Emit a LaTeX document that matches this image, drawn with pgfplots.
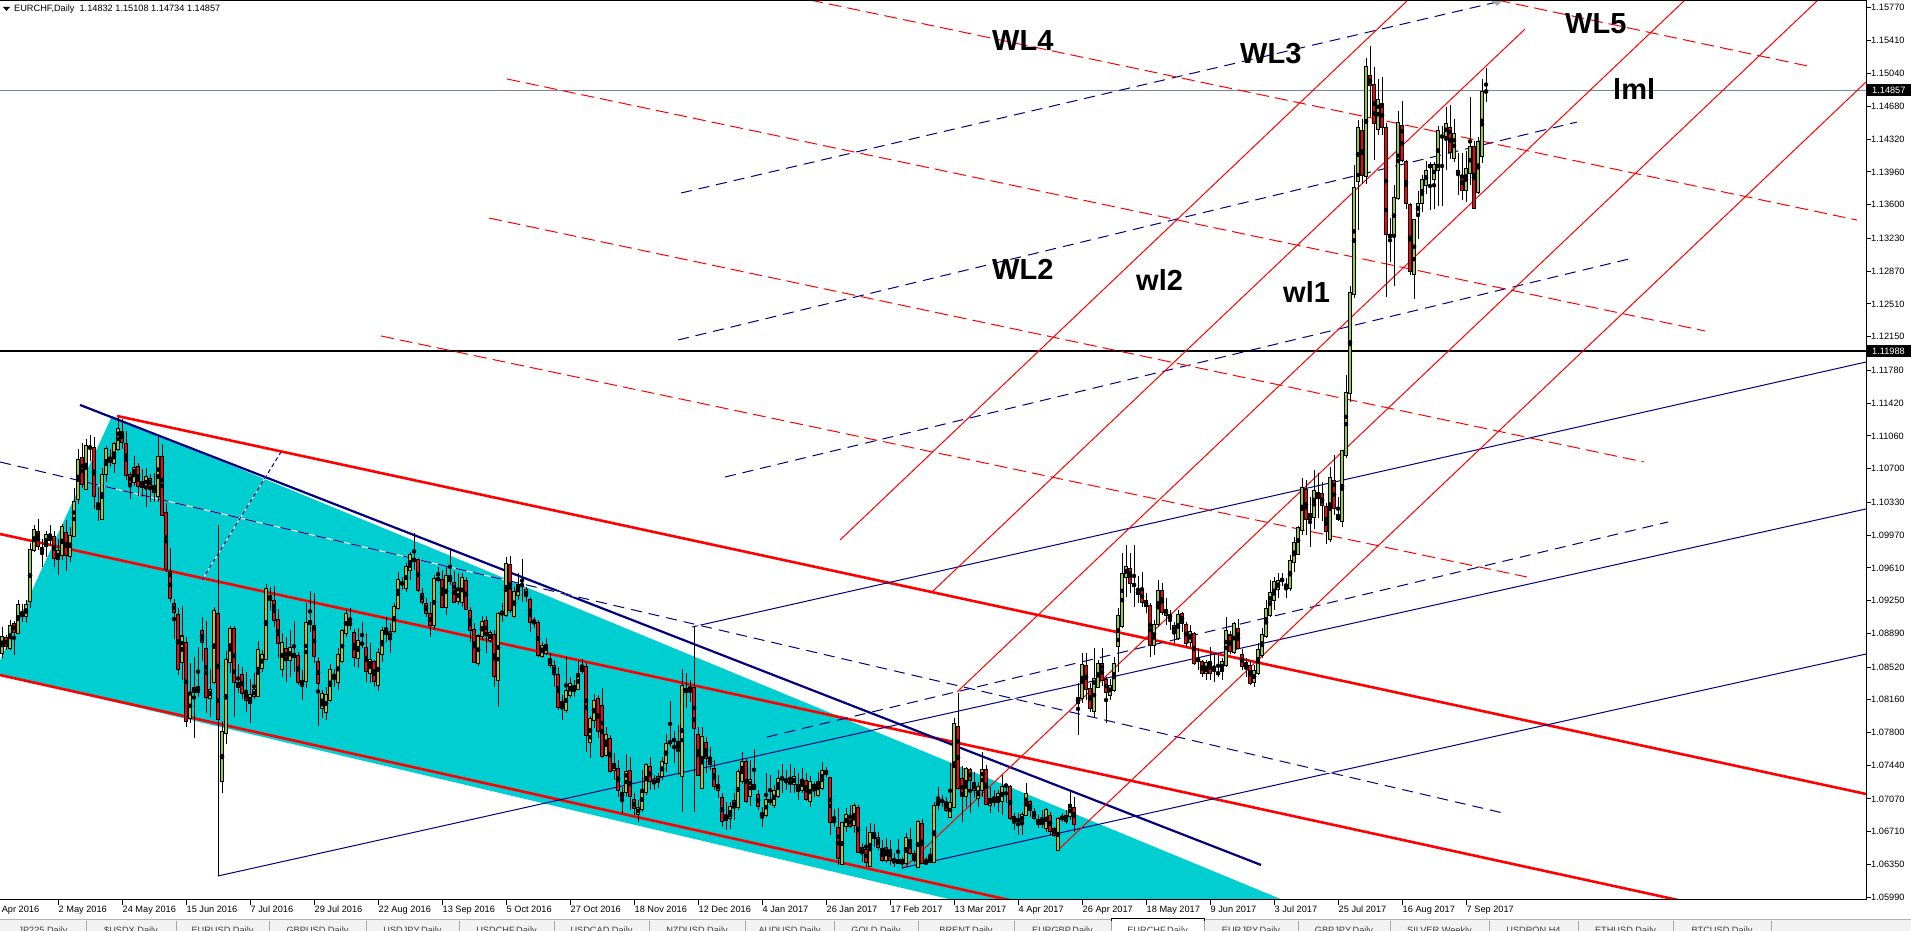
\documentclass[border=0pt]{standalone}
\usepackage{pgfplots}
\pgfplotsset{compat=1.18}
\usepackage{pgfplotstable}
\usepackage{fontspec}
\setmainfont{Liberation Sans}
\definecolor{mtnavy}{RGB}{0,0,128}
\definecolor{mtred}{RGB}{255,0,0}
\definecolor{mtcyan}{RGB}{0,206,209}
\definecolor{bull}{RGB}{154,205,50}
\definecolor{pricegray}{RGB}{119,136,153}
\newcommand{\axfont}{\fontsize{9.2bp}{11bp}\selectfont}
\newcommand{\wlfont}{\fontsize{29bp}{32bp}\selectfont\bfseries}

\pgfplotstableread{
k o h l c
-14 1.08670 1.08963 1.08615 1.08854
-13 1.08846 1.08872 1.08707 1.08744
-12 1.08725 1.09037 1.08707 1.08974
-11 1.09000 1.09029 1.08652 1.08901
-10 1.08890 1.09256 1.08880 1.09209
-9 1.09121 1.09212 1.09018 1.09073
-8 1.09073 1.09256 1.09000 1.09209
-7 1.09238 1.09879 1.09165 1.09813
-6 1.09802 1.10081 1.09788 1.10033
-5 1.10011 1.10143 1.09806 1.09843
-4 1.09788 1.09923 1.09623 1.09835
-3 1.09843 1.10018 1.09733 1.09978
-2 1.09952 1.10081 1.09854 1.09908
-1 1.09956 1.10018 1.09623 1.09714
0 1.09703 1.09923 1.09531 1.09799
1 1.09744 1.10092 1.09696 1.10070
2 1.10000 1.10136 1.09579 1.09744
3 1.09733 1.10062 1.09670 1.09971
4 1.09960 1.10484 1.09952 1.10337
5 1.10363 1.10912 1.10311 1.10802
6 1.10824 1.10978 1.10484 1.10527
7 1.10473 1.11022 1.10465 1.10956
8 1.10941 1.11070 1.10788 1.10930
9 1.10934 1.11044 1.10256 1.10396
10 1.10319 1.10495 1.10128 1.10253
11 1.10143 1.10703 1.10136 1.10637
12 1.10637 1.10949 1.10553 1.10923
13 1.10824 1.10912 1.10714 1.10769
14 1.10758 1.10996 1.10659 1.10971
15 1.10912 1.11271 1.10897 1.11143
16 1.11114 1.11245 1.10916 1.10989
17 1.10978 1.11114 1.10575 1.10630
18 1.10637 1.10667 1.10363 1.10538
19 1.10546 1.10839 1.10509 1.10714
20 1.10725 1.10766 1.10399 1.10502
21 1.10495 1.10692 1.10392 1.10557
22 1.10495 1.10714 1.10275 1.10612
23 1.10590 1.10637 1.10337 1.10509
24 1.10516 1.10648 1.10337 1.10436
25 1.10392 1.11044 1.10337 1.10839
26 1.10832 1.10967 1.10183 1.10190
27 1.10220 1.10319 1.09568 1.09590
28 1.09575 1.09835 1.09238 1.09275
29 1.09223 1.09264 1.08835 1.09121
30 1.09099 1.09172 1.08432 1.08491
31 1.08568 1.09191 1.08377 1.08861
32 1.08791 1.08854 1.07865 1.07923
33 1.07956 1.08561 1.07901 1.08231
34 1.08238 1.08626 1.07744 1.08297
35 1.08304 1.08744 1.08194 1.08242
36 1.08927 1.09066 1.08590 1.08791
37 1.08725 1.09026 1.08011 1.08187
38 1.08176 1.08495 1.07974 1.08275
39 1.08348 1.09183 1.08333 1.09147
40 1.09110 1.10081 1.06224 1.07945
41 1.07260 1.07930 1.07132 1.07817
42 1.07791 1.08700 1.07674 1.08604
43 1.08568 1.08971 1.08458 1.08945
44 1.08938 1.08971 1.07967 1.08348
45 1.08297 1.08557 1.08231 1.08348
46 1.08440 1.08524 1.08165 1.08231
47 1.08249 1.08469 1.08029 1.08150
48 1.08121 1.08392 1.07908 1.08212
49 1.08194 1.08451 1.08165 1.08275
50 1.08202 1.08802 1.08198 1.08714
51 1.08506 1.08707 1.08469 1.08663
52 1.08604 1.09429 1.08597 1.09385
53 1.09311 1.09396 1.09147 1.09249
54 1.09256 1.09410 1.08963 1.09029
55 1.09037 1.09154 1.08615 1.08780
56 1.08495 1.08890 1.08414 1.08791
57 1.08725 1.08854 1.08359 1.08597
58 1.08590 1.08927 1.08414 1.08736
59 1.08626 1.09029 1.08469 1.08670
60 1.08645 1.08689 1.08322 1.08348
61 1.08330 1.08487 1.08158 1.08370
62 1.08366 1.09220 1.08286 1.09007
63 1.08989 1.09359 1.08908 1.09026
64 1.08978 1.09330 1.08560 1.08634
65 1.08579 1.08634 1.07872 1.08341
66 1.08066 1.08267 1.07956 1.08231
67 1.08022 1.08304 1.07938 1.08223
68 1.08158 1.08560 1.08139 1.08495
69 1.08443 1.08495 1.08304 1.08407
70 1.08348 1.08725 1.08267 1.08659
71 1.08579 1.08941 1.08560 1.08923
72 1.08890 1.09154 1.08854 1.09110
73 1.09015 1.09165 1.08927 1.08974
74 1.08905 1.08934 1.08524 1.08623
75 1.08615 1.08945 1.08513 1.08813
76 1.08780 1.09018 1.08725 1.08774
77 1.08736 1.08890 1.08352 1.08469
78 1.08451 1.08780 1.08341 1.08604
79 1.08579 1.08597 1.08297 1.08359
80 1.08322 1.08725 1.08260 1.08674
81 1.08659 1.08963 1.08579 1.08923
82 1.08934 1.09073 1.08799 1.08883
83 1.08846 1.09000 1.08670 1.08905
84 1.08908 1.09220 1.08890 1.09183
85 1.09165 1.09568 1.09147 1.09487
86 1.09429 1.09513 1.09366 1.09451
87 1.09385 1.09659 1.09348 1.09619
88 1.09579 1.09788 1.09476 1.09758
89 1.09718 1.09996 1.09586 1.09681
90 1.09703 1.09714 1.09348 1.09366
91 1.09330 1.09385 1.09201 1.09234
92 1.09220 1.09275 1.09073 1.09110
93 1.09103 1.09238 1.08854 1.08978
94 1.08974 1.09531 1.08927 1.09495
95 1.09476 1.09623 1.09458 1.09502
96 1.09484 1.09586 1.09165 1.09176
97 1.09176 1.09623 1.09092 1.09520
98 1.09458 1.09824 1.09421 1.09531
99 1.09447 1.09579 1.09220 1.09231
100 1.09238 1.09549 1.09201 1.09377
101 1.09231 1.09549 1.09183 1.09506
102 1.09476 1.09506 1.09147 1.09154
103 1.09147 1.09183 1.08799 1.08919
104 1.08934 1.09000 1.08560 1.08568
105 1.08560 1.08883 1.08531 1.08861
106 1.08854 1.09081 1.08817 1.09018
107 1.09033 1.09084 1.08678 1.08868
108 1.08817 1.08927 1.08780 1.08897
109 1.08875 1.08927 1.08304 1.08414
110 1.08370 1.09128 1.08084 1.09103
111 1.09099 1.09220 1.09018 1.09121
112 1.09088 1.09725 1.09073 1.09659
113 1.09648 1.09740 1.09117 1.09147
114 1.09073 1.09403 1.09055 1.09355
115 1.09311 1.09549 1.09256 1.09421
116 1.09429 1.09703 1.09238 1.09410
117 1.09293 1.09403 1.09238 1.09377
118 1.09264 1.09293 1.08901 1.09011
119 1.09037 1.09073 1.08945 1.09007
120 1.09011 1.09037 1.08634 1.08652
121 1.08634 1.08799 1.08626 1.08758
122 1.08670 1.08835 1.08652 1.08769
123 1.08615 1.08678 1.08506 1.08542
124 1.08542 1.08597 1.08304 1.08451
125 1.08440 1.08524 1.08048 1.08077
126 1.08143 1.08212 1.07938 1.08084
127 1.08040 1.08626 1.08011 1.08267
128 1.08212 1.08407 1.08176 1.08341
129 1.08319 1.08377 1.08187 1.08249
130 1.08275 1.08590 1.08267 1.08454
131 1.08469 1.08612 1.08443 1.08539
132 1.08531 1.08560 1.07590 1.07766
133 1.07689 1.07982 1.07517 1.07956
134 1.07938 1.08223 1.07846 1.08158
135 1.08169 1.08216 1.07736 1.07810
136 1.08092 1.08286 1.07524 1.07535
137 1.07553 1.07865 1.07535 1.07784
138 1.07736 1.07773 1.07359 1.07370
139 1.07388 1.07579 1.07278 1.07465
140 1.07410 1.07498 1.07095 1.07161
141 1.07143 1.07205 1.06912 1.07081
142 1.07139 1.07564 1.07095 1.07377
143 1.07388 1.07535 1.06949 1.07095
144 1.07059 1.07132 1.06894 1.06967
145 1.06901 1.07059 1.06821 1.06978
146 1.06956 1.07388 1.06930 1.07176
147 1.07143 1.07462 1.07114 1.07451
148 1.07425 1.07535 1.07168 1.07260
149 1.07278 1.07333 1.07168 1.07242
150 1.07249 1.07352 1.07187 1.07315
151 1.07315 1.07535 1.07278 1.07480
152 1.07462 1.07791 1.07370 1.07681
153 1.07681 1.08150 1.07645 1.07707
154 1.07714 1.07821 1.07462 1.07722
155 1.07637 1.07883 1.07333 1.07700
156 1.07322 1.08505 1.06930 1.08322
157 1.08286 1.08458 1.08066 1.08238
158 1.08290 1.08377 1.08139 1.08282
159 1.08297 1.08960 1.06927 1.07846
160 1.07784 1.07865 1.07322 1.07333
161 1.07187 1.07865 1.07176 1.07762
162 1.07689 1.07755 1.07352 1.07517
163 1.07517 1.07645 1.07388 1.07454
164 1.07407 1.07498 1.07168 1.07212
165 1.07168 1.07333 1.07077 1.07234
166 1.07088 1.07132 1.06766 1.06821
167 1.06876 1.07040 1.06729 1.06839
168 1.06857 1.07040 1.06747 1.06993
169 1.06985 1.07132 1.06839 1.07051
170 1.06978 1.07396 1.06949 1.07370
171 1.07260 1.07590 1.07234 1.07480
172 1.07480 1.07506 1.07022 1.07040
173 1.07095 1.07498 1.06993 1.07286
174 1.07176 1.07615 1.07168 1.07234
175 1.07121 1.07168 1.06949 1.06993
176 1.06923 1.06985 1.06766 1.06876
177 1.06894 1.07352 1.06876 1.07066
178 1.07029 1.07333 1.07004 1.07070
179 1.07004 1.07224 1.06967 1.07168
180 1.07095 1.07388 1.07077 1.07297
181 1.07293 1.07454 1.07132 1.07301
182 1.07249 1.07388 1.07168 1.07286
183 1.07253 1.07454 1.07132 1.07245
184 1.07234 1.07407 1.07132 1.07315
185 1.07224 1.07352 1.07059 1.07150
186 1.07168 1.07407 1.07132 1.07286
187 1.07271 1.07352 1.07051 1.07066
188 1.07040 1.07322 1.06985 1.07260
189 1.07231 1.07260 1.07095 1.07161
190 1.07114 1.07370 1.07095 1.07267
191 1.07187 1.07480 1.07168 1.07381
192 1.07345 1.07418 1.07315 1.07381
193 1.07308 1.07315 1.06674 1.06810
194 1.06810 1.06956 1.06766 1.06846
195 1.06758 1.06967 1.06344 1.06418
196 1.06355 1.06821 1.06344 1.06810
197 1.06766 1.06967 1.06711 1.06894
198 1.06868 1.07004 1.06748 1.06766
199 1.06784 1.07022 1.06693 1.06993
200 1.06978 1.07004 1.06473 1.06480
201 1.06491 1.06583 1.06381 1.06535
202 1.06517 1.06766 1.06327 1.06374
203 1.06334 1.06803 1.06327 1.06704
204 1.06704 1.06795 1.06546 1.06638
205 1.06649 1.06711 1.06509 1.06539
206 1.06528 1.06620 1.06381 1.06392
207 1.06392 1.06638 1.06370 1.06539
208 1.06517 1.06620 1.06345 1.06392
209 1.06370 1.06473 1.06327 1.06400
210 1.06363 1.06627 1.06356 1.06407
211 1.06407 1.06436 1.06308 1.06363
212 1.06363 1.06693 1.06345 1.06649
213 1.06627 1.06748 1.06455 1.06473
214 1.06466 1.06510 1.06363 1.06392
215 1.06319 1.06839 1.06308 1.06821
216 1.06803 1.06847 1.06356 1.06363
217 1.06363 1.06436 1.06345 1.06381
218 1.06370 1.06528 1.06363 1.06436
219 1.06370 1.07041 1.06363 1.07004
220 1.06997 1.07206 1.06949 1.07059
221 1.07066 1.07114 1.06986 1.07030
222 1.07041 1.07096 1.06931 1.06942
223 1.06869 1.07462 1.06858 1.07030
224 1.06978 1.07957 1.06967 1.07894
225 1.07865 1.08239 1.07169 1.07187
226 1.07297 1.07433 1.06821 1.07103
227 1.07096 1.07425 1.06986 1.07407
228 1.07396 1.07407 1.06913 1.07272
229 1.07253 1.07370 1.07077 1.07162
230 1.07077 1.07260 1.06986 1.07206
231 1.07162 1.07590 1.07096 1.07396
232 1.07396 1.07444 1.07004 1.07015
233 1.07004 1.07206 1.06913 1.07077
234 1.07066 1.07169 1.06986 1.07030
235 1.07030 1.07169 1.06931 1.07125
236 1.07041 1.07334 1.06894 1.07206
237 1.07231 1.07242 1.07022 1.07206
238 1.07206 1.07224 1.06839 1.06858
239 1.06876 1.06913 1.06730 1.06821
240 1.06843 1.06913 1.06675 1.06835
241 1.06810 1.06931 1.06675 1.06905
242 1.06894 1.07242 1.06883 1.07132
243 1.07041 1.07059 1.06876 1.06942
244 1.06931 1.06967 1.06839 1.06858
245 1.06796 1.06894 1.06748 1.06847
246 1.06796 1.06949 1.06748 1.06839
247 1.06748 1.06967 1.06711 1.06956
248 1.06894 1.06931 1.06675 1.06711
249 1.06748 1.06766 1.06656 1.06675
250 1.06502 1.06876 1.06499 1.06858
251 1.06847 1.06913 1.06821 1.06876
252 1.06821 1.06949 1.06796 1.06894
253 1.06876 1.07151 1.06839 1.07004
254 1.06978 1.07096 1.06711 1.06796
255 1.08121 1.08348 1.07773 1.08187
256 1.08176 1.08671 1.08129 1.08543
257 1.08532 1.08671 1.08158 1.08275
258 1.08286 1.08341 1.08030 1.08066
259 1.08030 1.08726 1.07975 1.08396
260 1.08297 1.08598 1.08286 1.08561
261 1.08554 1.08726 1.08312 1.08370
262 1.08385 1.08414 1.07902 1.08239
263 1.08213 1.08385 1.08158 1.08323
264 1.08261 1.08634 1.08250 1.08561
265 1.08751 1.09165 1.08469 1.09092
266 1.08971 1.09770 1.08945 1.09543
267 1.09506 1.09861 1.09294 1.09631
268 1.09605 1.09770 1.09330 1.09440
269 1.09426 1.09861 1.09184 1.09418
270 1.09323 1.09521 1.09220 1.09356
271 1.09367 1.09568 1.09184 1.09228
272 1.09249 1.09330 1.09110 1.09183
273 1.09201 1.09220 1.08634 1.08762
274 1.08762 1.09037 1.08652 1.08993
275 1.08993 1.09476 1.08963 1.09366
276 1.09359 1.09440 1.09092 1.09117
277 1.09092 1.09275 1.08982 1.09154
278 1.09099 1.09146 1.08927 1.09055
279 1.08971 1.09018 1.08780 1.08908
280 1.08835 1.09146 1.08817 1.09092
281 1.09110 1.09128 1.08908 1.09000
282 1.08989 1.09018 1.08744 1.08780
283 1.08788 1.08982 1.08744 1.08908
284 1.08883 1.08908 1.08542 1.08561
285 1.08615 1.08725 1.08487 1.08579
286 1.08579 1.08597 1.08407 1.08451
287 1.08451 1.08597 1.08377 1.08571
288 1.08579 1.08744 1.08377 1.08451
289 1.08487 1.08670 1.08359 1.08491
290 1.08450 1.08652 1.08414 1.08455
291 1.08469 1.08615 1.08377 1.08586
292 1.08542 1.09066 1.08524 1.08919
293 1.08872 1.08919 1.08663 1.08689
294 1.08678 1.09018 1.08663 1.09000
295 1.08945 1.09044 1.08714 1.08725
296 1.08659 1.08714 1.08487 1.08531
297 1.08517 1.08615 1.08414 1.08568
298 1.08542 1.08597 1.08322 1.08341
299 1.08348 1.08542 1.08297 1.08487
300 1.08451 1.08780 1.08432 1.08714
301 1.08652 1.08945 1.08615 1.08872
302 1.08861 1.09256 1.08835 1.09165
303 1.09092 1.09476 1.09073 1.09344
304 1.09256 1.09513 1.09146 1.09458
305 1.09374 1.09557 1.09275 1.09476
306 1.09458 1.09549 1.09410 1.09495
307 1.09432 1.09495 1.09275 1.09403
308 1.09385 1.09751 1.09359 1.09696
309 1.09667 1.09952 1.09568 1.09886
310 1.09762 1.10070 1.09751 1.10055
311 1.10026 1.10593 1.09971 1.10495
312 1.10473 1.10575 1.09971 1.10143
313 1.10143 1.10391 1.09837 1.10209
314 1.10163 1.10684 1.10032 1.10456
315 1.10371 1.10652 1.10163 1.10443
316 1.10423 1.10554 1.10130 1.10293
317 1.10280 1.10326 1.09869 1.10013
318 1.09921 1.10717 1.09900 1.10606
319 1.10567 1.10847 1.10195 1.10261
320 1.10143 1.10391 1.10130 1.10195
321 1.10117 1.10899 1.10065 1.10899
322 1.10847 1.11727 1.10815 1.11532
323 1.11532 1.12705 1.11434 1.12640
324 1.12621 1.14042 1.12575 1.13794
325 1.13860 1.14531 1.13325 1.14446
326 1.14414 1.14544 1.13827 1.13925
327 1.13912 1.15216 1.13827 1.15118
328 1.15020 1.15346 1.14564 1.14909
329 1.14922 1.15118 1.14088 1.14498
330 1.14433 1.14987 1.14368 1.14759
331 1.14714 1.15000 1.14368 1.14453
332 1.14446 1.14498 1.12588 1.13279
333 1.13240 1.13455 1.12966 1.13279
334 1.13279 1.13814 1.12705 1.13683
335 1.13664 1.14629 1.13651 1.14498
336 1.14466 1.14740 1.14075 1.14088
337 1.14075 1.14088 1.13555 1.13618
338 1.13605 1.13618 1.12823 1.12869
339 1.12836 1.13442 1.12562 1.13442
340 1.13501 1.13749 1.13227 1.13618
341 1.13618 1.13925 1.13520 1.13879
342 1.13814 1.14088 1.13716 1.13977
343 1.14009 1.14075 1.13540 1.14042
344 1.13879 1.14075 1.13555 1.14042
345 1.13977 1.14466 1.13586 1.14414
346 1.14355 1.14466 1.13586 1.14345
347 1.14349 1.14674 1.13977 1.14498
348 1.14446 1.14694 1.14107 1.14172
349 1.14107 1.14544 1.14075 1.14388
350 1.13977 1.14172 1.13703 1.13944
351 1.13925 1.14172 1.13651 1.13762
352 1.13762 1.14192 1.13631 1.13996
353 1.13944 1.14779 1.13814 1.14238
354 1.14238 1.14303 1.13555 1.13565
355 1.13736 1.14349 1.13716 1.14290
356 1.14127 1.14987 1.14062 1.14844
357 1.14832 1.15108 1.14734 1.14857
}\candles

\begin{document}
\begin{tikzpicture}
\useasboundingbox (0,0) rectangle (1911bp,931bp);
\fill[white] (0,0) rectangle (1911bp,931bp);
\begin{axis}[
  at={(0,31bp)}, anchor=south west,
  scale only axis, width=1866bp, height=900bp,
  xmin=-14.5, xmax=452, ymin=1.0596, ymax=1.1585,
  axis line style={draw=none},
  clip=true,
  xtick={0,16,...,352},
  xticklabels={2 May 2016,24 May 2016,15 Jun 2016,7 Jul 2016,29 Jul 2016,22 Aug 2016,13 Sep 2016,5 Oct 2016,27 Oct 2016,18 Nov 2016,12 Dec 2016,4 Jan 2017,26 Jan 2017,17 Feb 2017,13 Mar 2017,4 Apr 2017,26 Apr 2017,18 May 2017,9 Jun 2017,3 Jul 2017,25 Jul 2017,16 Aug 2017,7 Sep 2017},
  ytick={1.05990,1.06350,1.06710,1.07070,1.07440,1.07800,1.08160,1.08520,1.08890,1.09250,1.09610,1.09970,1.10330,1.10700,1.11060,1.11420,1.11780,1.12150,1.12510,1.12870,1.13230,1.13600,1.13960,1.14320,1.14680,1.15040,1.15410,1.15770},
  yticklabels={1.05990,1.06350,1.06710,1.07070,1.07440,1.07800,1.08160,1.08520,1.08890,1.09250,1.09610,1.09970,1.10330,1.10700,1.11060,1.11420,1.11780,1.12150,1.12510,1.12870,1.13230,1.13600,1.13960,1.14320,1.14680,1.15040,1.15410,1.15770},
  xtick pos=bottom, ytick pos=right, yticklabel pos=right,
  tick align=outside, major tick length=5bp,
  every tick/.style={black, line width=1bp},
  xticklabel style={font=\axfont, anchor=north west, inner sep=0pt, xshift=0.5bp, yshift=-0.5bp},
  yticklabel style={font=\axfont, anchor=west, inner sep=0pt, xshift=0bp},
]
% cyan wedge
\addplot[fill=mtcyan, draw=none, forget plot] coordinates {(-16,1.08449) (13.5,1.11279) (306.25,1.0596) (223.75,1.0596)} -- cycle;

% horizontal price lines
\addplot[pricegray, line width=1bp] coordinates {(-14.5,1.14857) (452,1.14857)};
\addplot[black, line width=2bp] coordinates {(-14.5,1.11988) (452,1.11988)};

% thick channel lines
\addplot[mtred, line width=2.6bp] coordinates {(14.75,1.11279) (452,1.07125)};
\addplot[mtred, line width=2.6bp] coordinates {(-14.5,1.09982) (452,1.05509)};
\addplot[mtred, line width=2.6bp] coordinates {(-14.5,1.08432) (452,1.03861)};
\addplot[mtnavy, line width=2.2bp] coordinates {(5.5,1.11400) (300.75,1.06345)};

% thin navy solid lines
\addplot[mtnavy, line width=1bp] coordinates {(40,1.06224) (452,1.10257)};
\addplot[mtnavy, line width=1bp] coordinates {(158.5,1.08960) (452,1.11872)};
\addplot[mtnavy, line width=1bp] coordinates {(211,1.06312) (452,1.08663)};

% navy dashed lines (white gaps)
\addplot[white, line width=1bp] coordinates {(-14.5,1.10773) (361.25,1.06916)};
\addplot[mtnavy, line width=1bp, dash pattern=on 11bp off 7bp] coordinates {(-14.5,1.10773) (361.25,1.06916)};
\addplot[white, line width=1bp] coordinates {(36,1.09476) (55.75,1.10883)};
\addplot[mtnavy, line width=1bp, dash pattern=on 4bp off 3bp] coordinates {(36,1.09476) (55.75,1.10883)};
\addplot[mtnavy, line width=1bp, dash pattern=on 11bp off 7bp] coordinates {(155.75,1.13729) (359.75,1.15828)};
\addplot[mtnavy, line width=1bp, dash pattern=on 11bp off 7bp] coordinates {(155,1.12114) (379.75,1.14509)};
\addplot[mtnavy, line width=1bp, dash pattern=on 11bp off 7bp] coordinates {(166.75,1.10608) (392.75,1.13004)};
\addplot[mtnavy, line width=1bp, dash pattern=on 11bp off 7bp] coordinates {(177.25,1.07751) (402.5,1.10114)};

% red dashed WL lines
\addplot[mtred, line width=1bp, dash pattern=on 13bp off 6bp] coordinates {(188,1.15850) (449.75,1.13432)};
\addplot[mtred, line width=1bp, dash pattern=on 13bp off 6bp] coordinates {(112.25,1.14982) (411.75,1.12213)};
\addplot[mtred, line width=1bp, dash pattern=on 13bp off 6bp] coordinates {(107.75,1.13454) (396.5,1.10773)};
\addplot[mtred, line width=1bp, dash pattern=on 13bp off 6bp] coordinates {(80.75,1.12158) (367.25,1.09509)};
\addplot[mtred, line width=1bp, dash pattern=on 13bp off 6bp] coordinates {(359.75,1.15850) (438.5,1.15114)};

% red thin rising lines
\addplot[mtred, line width=1bp] coordinates {(195.5,1.09916) (337.5,1.15850)};
\addplot[mtred, line width=1bp] coordinates {(218.5,1.09345) (366.75,1.15531)};
\addplot[mtred, line width=1bp] coordinates {(224.75,1.08246) (406.75,1.15850)};
\addplot[mtred, line width=1bp] coordinates {(211.75,1.06323) (440,1.15850)};
\addplot[mtred, line width=1bp] coordinates {(250,1.06509) (452,1.14949)};

% candles: wicks
\addplot[only marks, mark=none, forget plot,
  error bars/.cd, y dir=both, y explicit, error mark=none,
  error bar style={draw=black, line width=1bp}]
  table[x=k, y expr={(\thisrow{h}+\thisrow{l})/2}, y error expr={(\thisrow{h}-\thisrow{l})/2}]{\candles};
% body outline
\addplot[only marks, mark=none, forget plot,
  error bars/.cd, y dir=both, y explicit, error mark=none,
  error bar style={draw=black, line width=3.2bp}]
  table[x=k, y expr={(\thisrow{o}+\thisrow{c})/2}, y error expr={abs(\thisrow{o}-\thisrow{c})/2+0.00006}]{\candles};
% bull bodies
\addplot[only marks, mark=none, forget plot,
  restrict expr to domain={\thisrow{c}-\thisrow{o}}{0:1},
  error bars/.cd, y dir=both, y explicit, error mark=none,
  error bar style={draw=bull, line width=1.6bp}]
  table[x=k, y expr={(\thisrow{o}+\thisrow{c})/2}, y error expr={max(abs(\thisrow{o}-\thisrow{c})/2-0.00005,0)}]{\candles};
% bear bodies
\addplot[only marks, mark=none, forget plot,
  restrict expr to domain={\thisrow{o}-\thisrow{c}}{0.0000001:1},
  error bars/.cd, y dir=both, y explicit, error mark=none,
  error bar style={draw=mtred, line width=1.6bp}]
  table[x=k, y expr={(\thisrow{o}+\thisrow{c})/2}, y error expr={max(abs(\thisrow{o}-\thisrow{c})/2-0.00005,0)}]{\candles};

% object marker at top
\fill[gray!70] (axis cs:358.2,1.1585) -- (axis cs:361.3,1.1585) -- (axis cs:359.75,1.15785) -- cycle;

% labels
\node[anchor=base west, inner sep=0pt, font=\wlfont] at (axis cs:233.5,1.15290) {WL4};
\node[anchor=base west, inner sep=0pt, font=\wlfont] at (axis cs:295.5,1.15147) {WL3};
\node[anchor=base west, inner sep=0pt, font=\wlfont] at (axis cs:376.75,1.15487) {WL5};
\node[anchor=base west, inner sep=0pt, font=\wlfont] at (axis cs:388.75,1.14751) {lml};
\node[anchor=base west, inner sep=0pt, font=\wlfont] at (axis cs:233.5,1.12784) {WL2};
\node[anchor=base west, inner sep=0pt, font=\wlfont] at (axis cs:269.5,1.12663) {wl2};
\node[anchor=base west, inner sep=0pt, font=\wlfont] at (axis cs:306.25,1.12531) {wl1};
\end{axis}

% frame
\draw[black, line width=1bp] (0,930.5bp) -- (1866.5bp,930.5bp) -- (1866.5bp,31bp) -- (0,31bp);
% partial first date label
\node[anchor=north west, inner sep=0pt, font=\axfont] at (-6bp,25bp) {8 Apr 2016};
% header
\fill[black] (3bp,924bp) -- (10bp,924bp) -- (6.5bp,920bp) -- cycle;
\node[anchor=west, inner sep=0pt, font=\axfont] at (14bp,922bp) {EURCHF,Daily\ \ 1.14832 1.15108 1.14734 1.14857};
% price boxes
\fill[black] (1867bp,834.6bp) rectangle (1911bp,846.6bp);
\node[anchor=west, inner sep=0pt, font=\axfont, text=white] at (1872bp,840.6bp) {1.14857};
\fill[black] (1867bp,573.6bp) rectangle (1911bp,585.6bp);
\node[anchor=west, inner sep=0pt, font=\axfont, text=white] at (1872bp,579.6bp) {1.11988};
% tab bar
\fill[gray!10] (0,0) rectangle (1911bp,11bp);
\draw[gray!60, line width=1bp] (0,11.5bp) -- (1911bp,11.5bp);
\fill[white] (1111bp,0) rectangle (1204bp,12bp);
\draw[black, line width=1bp] (1111bp,0) -- (1111bp,12bp) -- (1204bp,12bp) -- (1204bp,0);
\foreach \a/\b/\t in {0/86/{JP225,Daily},86/176/{\$USDX,Daily},176/269/{EURUSD,Daily},269/366/{GBPUSD,Daily},366/459/{USDJPY,Daily},459/554/{USDCHF,Daily},554/649/{USDCAD,Daily},649/745/{NZDUSD,Daily},745/834/{AUDUSD,Daily},834/918/{GOLD,Daily},918/1014/{BRENT,Daily},1014/1111/{EURGBP,Daily},1111/1204/{EURCHF,Daily},1204/1298/{EURJPY,Daily},1298/1390/{GBPJPY,Daily},1390/1489/{SILVER,Weekly},1489/1578/{USDRON,H4},1578/1673/{ETHUSD,Daily},1673/1771/{BTCUSD,Daily}} {
  \node[anchor=north, inner sep=0pt, font=\axfont, text=black!75] at ({(\a+\b)/2*1bp},4.5bp) {\t};
  \draw[gray!70, line width=1bp] (\b bp,0) -- (\b bp,10bp);
}
\end{tikzpicture}
\end{document}
